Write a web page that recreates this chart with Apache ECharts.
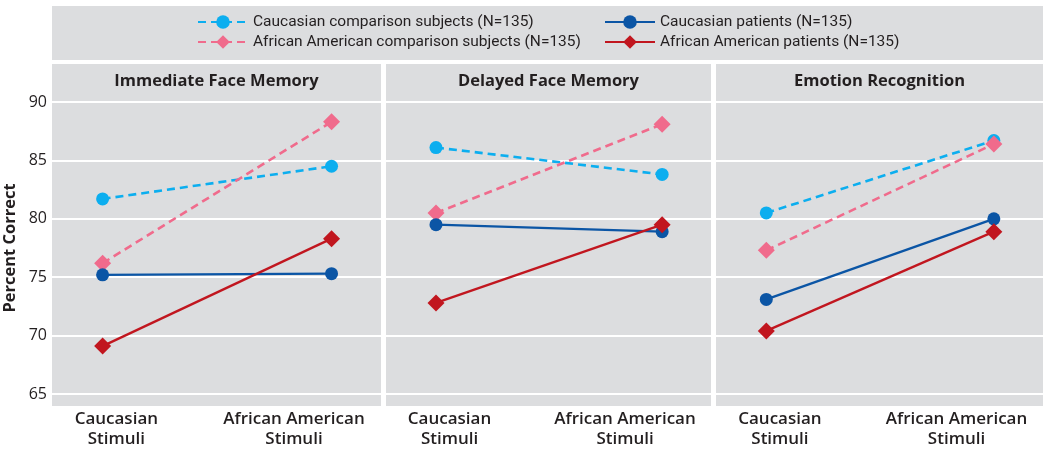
<!DOCTYPE html>
<html>
<head>
<meta charset="utf-8">
<script src="https://cdn.jsdelivr.net/npm/echarts@6/dist/echarts.min.js"></script>
<style>
  html, body { margin: 0; padding: 0; background: #fff; }
  #chart { width: 1050px; height: 453px; }
</style>
</head>
<body>
<div id="chart"></div>
<script>
// panels and stimulus categories
const panels = ['Immediate Face Memory', 'Delayed Face Memory', 'Emotion Recognition']
const stimuli = ['Caucasian\nStimuli', 'African American\nStimuli']
const yTicks = [65, 70, 75, 80, 85, 90]

// percent correct per panel: [Caucasian stimuli, African American stimuli]
const caucComparison = [[81.7, 84.5], [86.1, 83.8], [80.5, 86.7]]
const aaComparison = [[76.2, 88.3], [80.5, 88.1], [77.3, 86.4]]
const caucPatients = [[75.2, 75.3], [79.5, 78.9], [73.1, 80.0]]
const aaPatients = [[69.1, 78.3], [72.8, 79.5], [70.4, 78.9]]

const groups = [
  { name: 'Caucasian comparison subjects (N=135)', data: caucComparison, color: '#0caeef', dashed: true, symbol: 'circle', size: 13 },
  { name: 'African American comparison subjects (N=135)', data: aaComparison, color: '#f06b8c', dashed: true, symbol: 'diamond', size: 17 },
  { name: 'Caucasian patients (N=135)', data: caucPatients, color: '#0b55a5', dashed: false, symbol: 'circle', size: 13 },
  { name: 'African American patients (N=135)', data: aaPatients, color: '#c1161f', dashed: false, symbol: 'diamond', size: 17 }
]

// panel boxes (layout only)
const panelBox = [[52, 381], [386, 711], [716, 1043]]
const panelTop = 64
const panelBottom = 406
const plotTop = 102
const plotBottom = 394
// where the two stimuli sit and where their labels sit, in x units
const xMin = -0.221
const xMax = 1.216
const labelPos = [0.06, 0.836]

const chart = echarts.init(document.getElementById('chart'))

const labelFont = { fontFamily: 'Open Sans', color: '#231f20' }
const legendText = { fontFamily: 'Roboto', fontSize: 15.5, color: '#231f20' }

const option = {
  backgroundColor: '#fff',
  animation: false,
  graphic: [
    { type: 'rect', z: -10, shape: { x: 52, y: 6, width: 991, height: 54 }, style: { fill: '#dcdddf' } },
    ...panelBox.map(([l, r]) => ({
      type: 'rect', z: -10,
      shape: { x: l, y: panelTop, width: r - l, height: panelBottom - panelTop },
      style: { fill: '#dcdddf' }
    }))
  ],
  title: panels.map((t, i) => ({
    text: t,
    left: (panelBox[i][0] + panelBox[i][1]) / 2,
    top: 73,
    textAlign: 'center',
    padding: 0,
    textStyle: { ...labelFont, fontSize: 16.5, fontWeight: 'bold' }
  })),
  legend: [
    {
      left: 197, top: 14, orient: 'vertical', itemGap: 4, padding: 0,
      itemWidth: 50, itemHeight: 17,
      data: [groups[0].name, groups[1].name],
      textStyle: legendText
    },
    {
      left: 604, top: 14, orient: 'vertical', itemGap: 4, padding: 0,
      itemWidth: 50, itemHeight: 17,
      data: [groups[2].name, groups[3].name],
      textStyle: legendText
    }
  ],
  grid: panelBox.map(([l, r]) => ({
    left: l, top: plotTop, width: r - l, height: plotBottom - plotTop
  })),
  xAxis: panelBox.map((_, i) => ({
    type: 'value',
    gridIndex: i,
    min: xMin,
    max: xMax,
    axisLine: { show: false },
    axisTick: { show: false },
    splitLine: { show: false },
    axisLabel: {
      customValues: labelPos,
      formatter: (v) => stimuli[labelPos.indexOf(v)] || '',
      ...labelFont,
      fontSize: 17,
      fontWeight: 600,
      lineHeight: 20,
      margin: 15
    }
  })),
  yAxis: panelBox.map((_, i) => ({
    type: 'value',
    gridIndex: i,
    min: yTicks[0],
    max: yTicks[yTicks.length - 1],
    interval: 5,
    name: i === 0 ? 'Percent Correct' : '',
    nameLocation: 'middle',
    nameGap: 33,
    nameTextStyle: { ...labelFont, fontSize: 16.5, fontWeight: 'bold' },
    axisLine: { show: false },
    axisTick: { show: false },
    axisLabel: { show: i === 0, ...labelFont, fontSize: 16, margin: 5 },
    splitLine: { lineStyle: { color: '#fff', width: 2 } }
  })),
  series: panels.flatMap((_, i) => groups.map(g => ({
    name: g.name,
    type: 'line',
    xAxisIndex: i,
    yAxisIndex: i,
    data: g.data[i].map((v, k) => [k, v]),
    symbol: g.symbol,
    symbolSize: g.size,
    color: g.color,
    lineStyle: { color: g.color, width: g.dashed ? 2.6 : 2.3, type: g.dashed ? [8, 5] : 'solid' },
    itemStyle: { color: g.color },
    z: g.dashed ? 2 : 3
  })))
}

chart.setOption(option)
</script>
</body>
</html>
